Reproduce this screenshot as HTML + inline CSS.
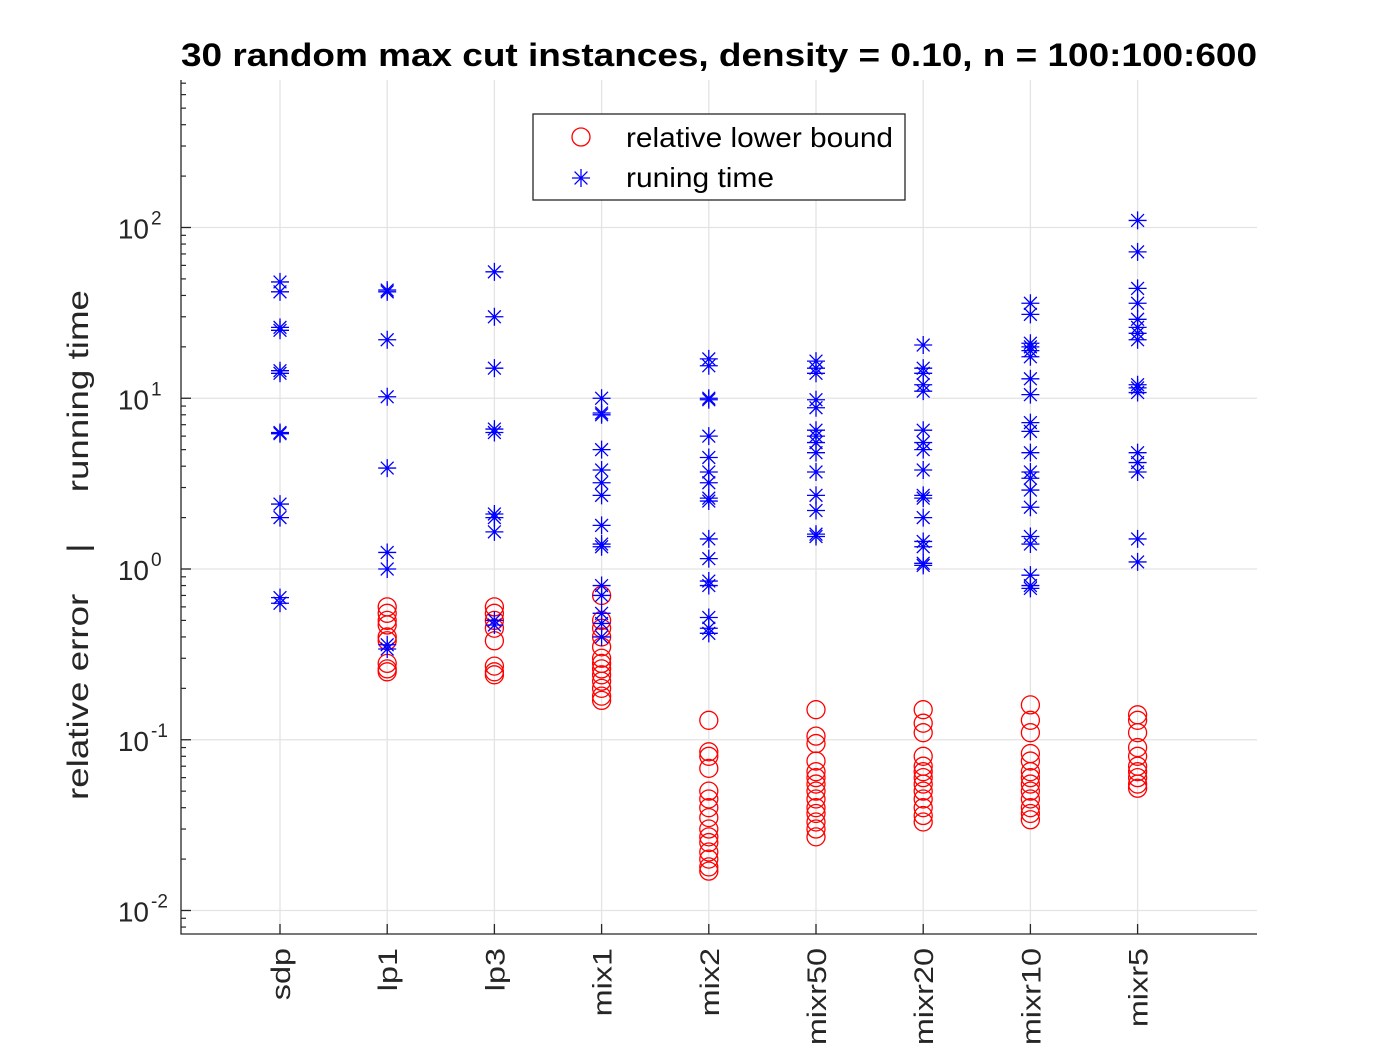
<!DOCTYPE html>
<html><head><meta charset="utf-8"><style>
body{margin:0;background:#fff}
svg{display:block;font-family:"Liberation Sans",Arial,sans-serif}
</style></head><body>
<svg id="chart" width="1389" height="1050">
<rect width="1389" height="1050" fill="#fff"/>
<g id="grid"></g><g id="axes"></g><g id="marks"></g>
<text x="181" y="66" textLength="1076" lengthAdjust="spacingAndGlyphs" font-size="32" font-weight="bold">30 random max cut instances, density = 0.10, n = 100:100:600</text>
<text transform="translate(88,545) rotate(-90)" text-anchor="middle" font-size="30" fill="#262626" textLength="510" lengthAdjust="spacingAndGlyphs" xml:space="preserve">relative error    |     running time</text>
<g>
<rect x="533" y="114" width="372" height="86" fill="#fff" stroke="#262626" stroke-width="1.3"/>
<circle cx="581" cy="137" r="9" fill="none" stroke="#f00" stroke-width="1.3"/>
<text x="626" y="147" font-size="28" textLength="267" lengthAdjust="spacingAndGlyphs" fill="#000">relative lower bound</text>
<g stroke="#00f" stroke-width="1.3"><line x1="572" y1="178" x2="590" y2="178"/><line x1="581" y1="169" x2="581" y2="187"/><line x1="574.6" y1="171.6" x2="587.4" y2="184.4"/><line x1="574.6" y1="184.4" x2="587.4" y2="171.6"/></g>
<text x="626" y="187" font-size="28" textLength="148" lengthAdjust="spacingAndGlyphs" fill="#000">runing time</text>
</g>
</svg>
<script>
const categories=["sdp","lp1","lp3","mix1","mix2","mixr50","mixr20","mixr10","mixr5"];
const timeSdp=[48,42,26,25,14.5,14,6.3,6.2,2.4,2.0,0.68,0.63];
const timeLp1=[43,42,22,10.2,3.9,1.25,1.0,0.36,0.34];
const timeLp3=[55,30,15,6.6,6.3,2.1,2.0,1.65,0.5,0.47];
const timeMix1=[10,8.2,8,5,3.8,3.2,2.7,1.8,1.4,1.35,0.8,0.7,0.55,0.48,0.4];
const timeMix2=[17,15.5,10,9.8,6,4.5,3.7,3.2,2.6,2.5,1.5,1.15,0.85,0.8,0.52,0.45,0.42];
const timeMixr50=[16.5,15,14,9.8,8.8,6.5,6,5.5,4.8,3.7,2.7,2.2,1.6,1.55];
const timeMixr20=[20.5,15,14,12,11,6.5,5.5,5,3.8,2.7,2.6,2,1.45,1.35,1.08,1.05];
const timeMixr10=[36,31,21,20,19,17.5,13,10.5,7.2,6.4,4.8,3.7,3.4,2.9,2.3,1.55,1.4,0.92,0.8,0.77];
const timeMixr5=[110,72,44,36,29,26,24,22,12,11.5,10.8,4.8,4.2,3.7,1.5,1.1];
const errSdp=[];
const errLp1=[0.6,0.55,0.5,0.47,0.4,0.38,0.28,0.26,0.25];
const errLp3=[0.6,0.55,0.5,0.45,0.38,0.27,0.25,0.24];
const errMix1=[0.7,0.5,0.45,0.4,0.35,0.3,0.28,0.26,0.24,0.22,0.2,0.18,0.17];
const errMix2=[0.13,0.085,0.08,0.068,0.05,0.045,0.04,0.035,0.03,0.027,0.025,0.022,0.02,0.018,0.017];
const errMixr50=[0.15,0.105,0.095,0.075,0.065,0.06,0.055,0.05,0.045,0.04,0.037,0.033,0.03,0.027];
const errMixr20=[0.15,0.125,0.11,0.08,0.07,0.065,0.06,0.055,0.05,0.045,0.04,0.036,0.033];
const errMixr10=[0.16,0.13,0.11,0.083,0.075,0.065,0.06,0.055,0.05,0.045,0.04,0.037,0.034];
const errMixr5=[0.14,0.13,0.11,0.09,0.08,0.07,0.065,0.06,0.055,0.052];
const yTickExps=[-2,-1,0,1,2];
const times=[timeSdp,timeLp1,timeLp3,timeMix1,timeMix2,timeMixr50,timeMixr20,timeMixr10,timeMixr5];
const errs=[errSdp,errLp1,errLp3,errMix1,errMix2,errMixr50,errMixr20,errMixr10,errMixr5];

const NS="http://www.w3.org/2000/svg";
const L=181,R=1257,T=80,B=934;
const xScale=i=>280+i*107.2;
const yScale=v=>569-Math.log10(v)*170.75;
function mk(tag,attrs,parent){const e=document.createElementNS(NS,tag);for(const k in attrs)e.setAttribute(k,attrs[k]);parent.appendChild(e);return e;}
const grid=document.getElementById('grid'),axes=document.getElementById('axes'),marks=document.getElementById('marks');
categories.forEach((c,i)=>{
  const g=mk('line',{x1:xScale(i),x2:xScale(i),y1:T,y2:B,stroke:'#e3e3e3','stroke-width':1.3},grid);
  
  
  const tk=mk('line',{x1:xScale(i),x2:xScale(i),y1:B,y2:B-10,stroke:'#262626','stroke-width':1.3},axes);
  
  
  const t=mk('text',{transform:`translate(${xScale(i)+10},948) rotate(-90) scale(1.2,1)`,'text-anchor':'end','font-size':27,fill:'#262626'},axes);
  t.textContent=c;
  
  
});
yTickExps.forEach(e=>{
  const y=yScale(Math.pow(10,e));
  const g=mk('line',{x1:L,x2:R,y1:y,y2:y,stroke:'#e3e3e3','stroke-width':1.3},grid);
  
  
  const tk=mk('line',{x1:L,x2:L+10,y1:y,y2:y,stroke:'#262626','stroke-width':1.3},axes);
  
  
  const t=mk('text',{x:149,y:y+11,'text-anchor':'end','font-size':28,fill:'#262626'},axes);
  t.textContent='10';
  
  
  const s=mk('text',{x:151,y:y-3,'font-size':19,fill:'#262626'},axes);
  s.textContent=String(e);
  
  
});
for(let e=-3;e<=2;e++){for(let m=2;m<=9;m++){const y=yScale(m*Math.pow(10,e));if(y<T||y>B)continue;
  const mt=mk('line',{x1:L,x2:L+5,y1:y,y2:y,stroke:'#262626','stroke-width':1.2},axes);
  
  }}
const ax=mk('path',{d:`M${L},${T}V${B}H${R}`,fill:'none',stroke:'#262626','stroke-width':1.3},axes);


errs.forEach((arr,i)=>arr.forEach(v=>{
  const c=mk('circle',{cx:xScale(i),cy:yScale(v),r:9,fill:'none',stroke:'#f00','stroke-width':1.3},marks);
  
  
}));
times.forEach((arr,i)=>arr.forEach(v=>{
  const x=xScale(i),y=yScale(v);
  const p=mk('path',{d:`M${x-9},${y}H${x+9}M${x},${y-9}V${y+9}M${x-6.4},${y-6.4}L${x+6.4},${y+6.4}M${x-6.4},${y+6.4}L${x+6.4},${y-6.4}`,stroke:'#00f','stroke-width':1.3,fill:'none'},marks);
  
  
}));
</script>
</body></html>
